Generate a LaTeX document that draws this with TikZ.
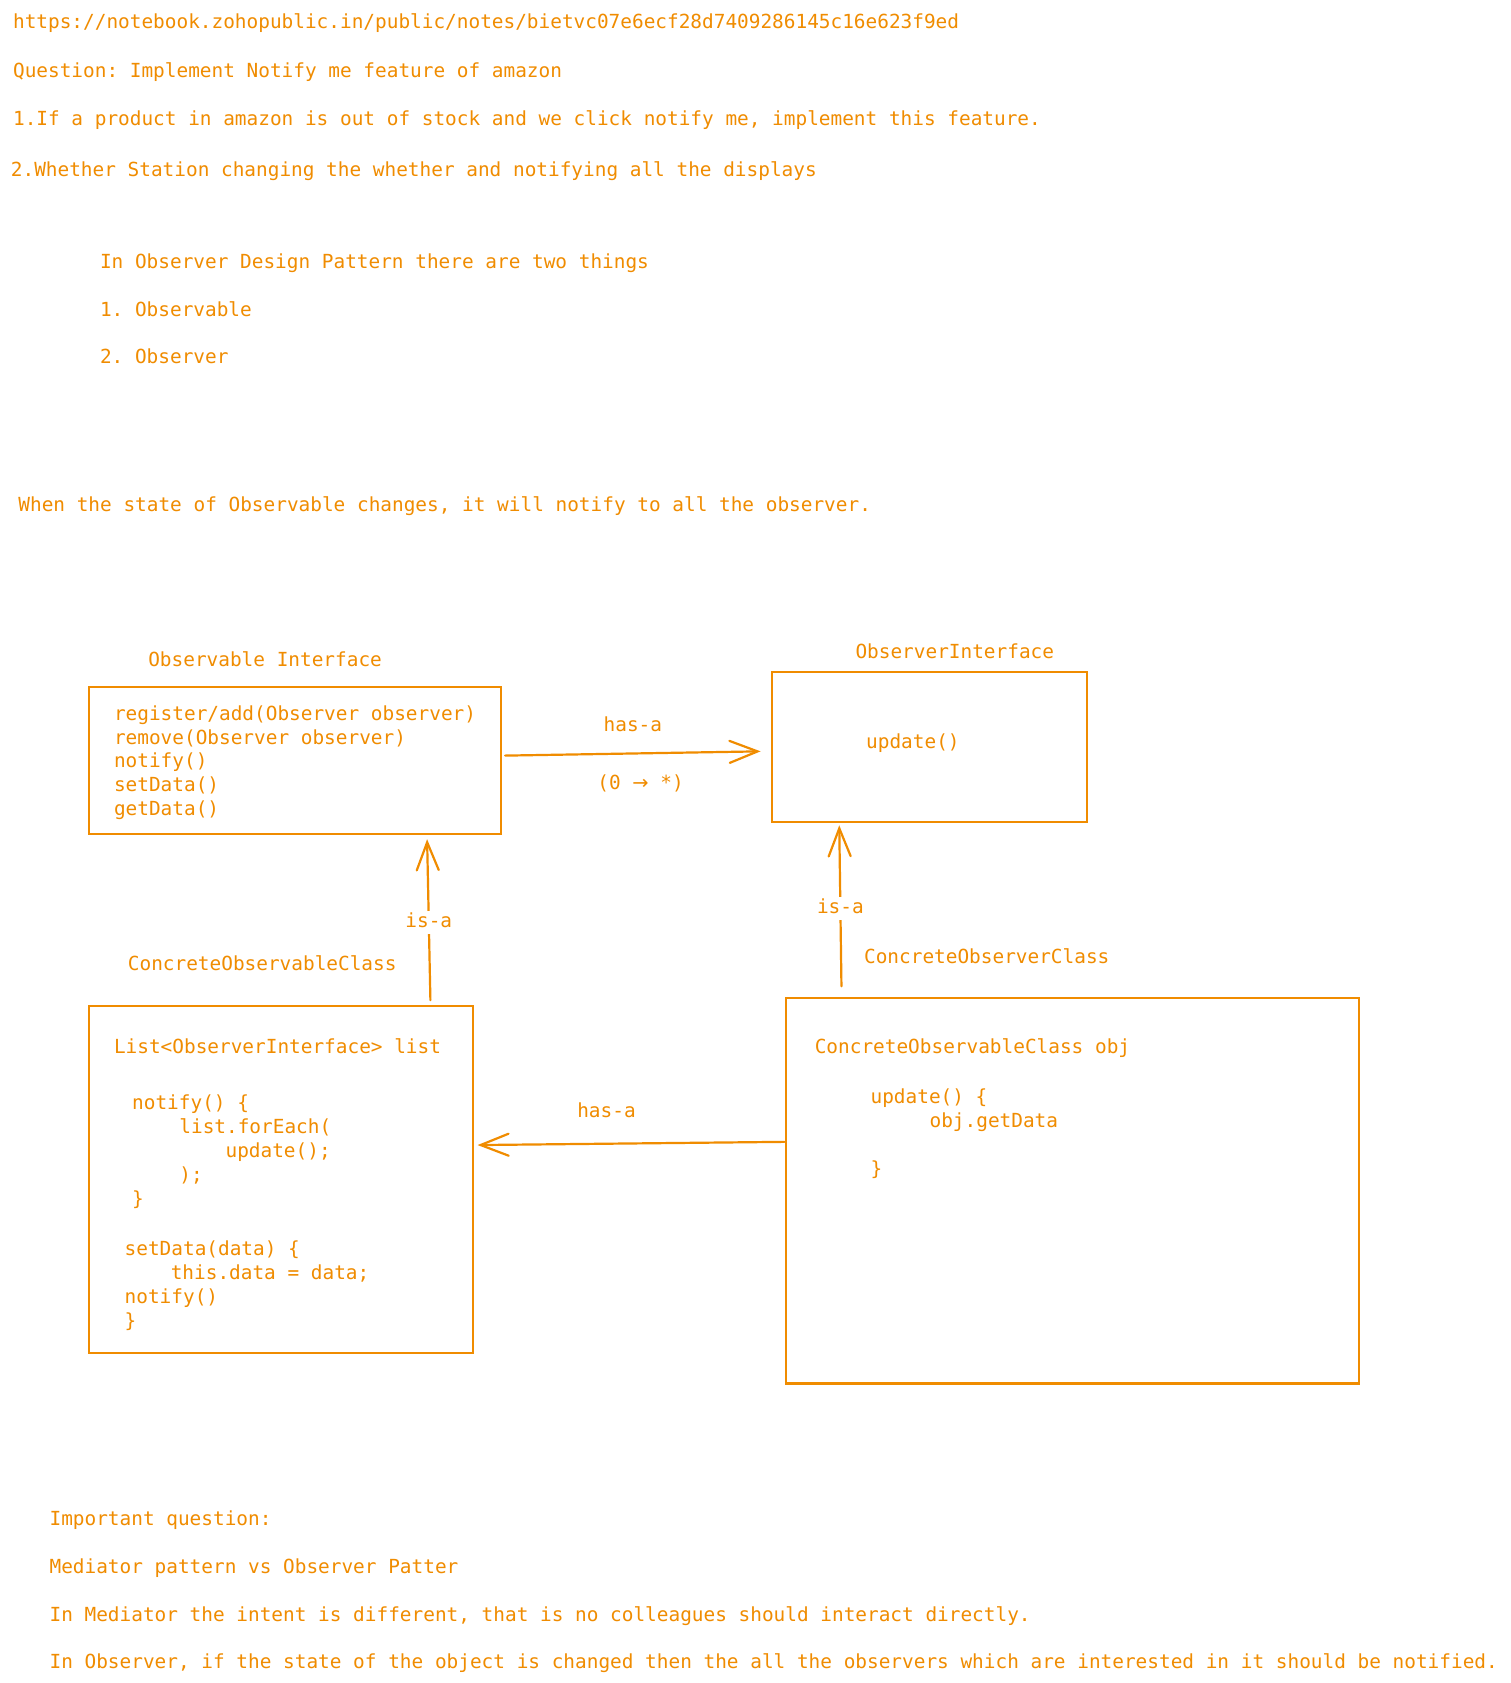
\documentclass[tikz,border=0pt]{standalone}
\usepackage{fontspec}
\usetikzlibrary{arrows.meta}
\newfontfamily\codefont{DejaVu Sans Mono}
\newfontfamily\arrowfont{DejaVu Sans}
\definecolor{orng}{RGB}{240,140,0}
\frenchspacing
\begin{document}
\begin{tikzpicture}[x=1pt,y=-1pt,
  txt/.style={anchor=west, inner sep=0pt, text height=14pt, text depth=4pt, yshift=-2.5pt,
    text=orng, font=\codefont\fontsize{19.4}{23.9}\selectfont},
  lbl/.style={txt, anchor=center},
  cut/.style={lbl, fill=white, inner xsep=1pt, inner ysep=2.5pt},
  box/.style={draw=orng, line width=2.2pt, inner sep=0pt, anchor=north west},
  arr/.style={draw=orng, line width=2.2pt, line cap=round,
    -{Straight Barb[length=28pt,width=22pt,line cap=round]}}]
\useasboundingbox[fill=white] (0,0) rectangle (1511,1683);

% header notes
\node[txt] (url) at (12.9,21.5) {https://notebook.zohopublic.in/public/notes/bietvc07e6ecf28d7409286145c16e623f9ed};
\node[txt] (q) at (12.9,69.8) {Question: Implement Notify me feature of amazon};
\node[txt] (q1) at (12.9,118) {1.If a product in amazon is out of stock and we click notify me, implement this feature.};
\node[txt] (q2) at (10.7,168.5) {2.Whether Station changing the whether and notifying all the displays};
\node[txt] (intro) at (99.8,260.8) {In Observer Design Pattern there are two things};
\node[txt] (i1) at (99.8,309) {1. Observable};
\node[txt] (i2) at (99.8,356.3) {2. Observer};
\node[txt] (when) at (18.2,504.4) {When the state of Observable changes, it will notify to all the observer.};

% class titles
\node[txt] (t1) at (148.1,659) {Observable Interface};
\node[txt] (t2) at (855.3,651.4) {ObserverInterface};
\node[txt] (t3) at (127.7,962.7) {ConcreteObservableClass};
\node[txt] (t4) at (863.9,956.2) {ConcreteObserverClass};

% class boxes
\node[box, minimum width=412pt, minimum height=147pt] (obsif) at (88,686) {};
\node[box, minimum width=315.5pt, minimum height=150.3pt] (obsrif) at (770.6,670.7) {};
\node[box, minimum width=384.2pt, minimum height=347.7pt] (cobs) at (88,1004.5) {};
\node[box, minimum width=573.1pt, minimum height=385.3pt] (cobsr) at (784.5,997) {};

% Observable Interface members
\node[txt] (m1) at (113.8,712.6) {register/add(Observer observer)};
\node[txt] (m2) at (113.8,736.5) {remove(Observer observer)};
\node[txt] (m3) at (113.8,760.4) {notify()};
\node[txt] (m4) at (113.8,784.3) {setData()};
\node[txt] (m5) at (113.8,808.2) {getData()};

% ObserverInterface members
\node[txt] (u1) at (866,740.5) {update()};

% ConcreteObservableClass body
\node[txt] (c1) at (113.8,1046.4) {List<ObserverInterface> list};
\node[txt] (c2) at (132,1102.2) {notify() \{};
\node[txt] (c3) at (179.2,1125.8) {list.forEach(};
\node[txt] (c4) at (225.4,1149.6) {update();};
\node[txt] (c5) at (179.2,1173.6) {);};
\node[txt] (c6) at (132,1197.5) {\}};
\node[txt] (c7) at (124.5,1248.1) {setData(data) \{};
\node[txt] (c8) at (170.6,1272.2) {this.data = data;};
\node[txt] (c9) at (124.5,1296.2) {notify()};
\node[txt] (c10) at (124.5,1320.1) {\}};

% ConcreteObserverClass body
\node[txt] (o1) at (814.6,1046.4) {ConcreteObservableClass obj};
\node[txt] (o2) at (870.4,1095.7) {update() \{};
\node[txt] (o3) at (929.4,1120.4) {obj.getData};
\node[txt] (o4) at (870.4,1167.6) {\}};

% relations
\draw[arr] ([xshift=3pt,yshift=5pt]obsif.east) -- ([xshift=-10pt,yshift=-4.4pt]obsrif.west)
  node[lbl, midway, yshift=29pt] (hasa1) {has-a}
  node[lbl, pos=0.53, yshift=-29pt] (mult) {(0 {\arrowfont →} *)};
\draw[arr] ([yshift=48.9pt]cobsr.west) -- ([xshift=3.2pt,yshift=34.4pt]cobs.east)
  node[lbl, pos=0.58, yshift=34pt] (hasa2) {has-a};
\draw[arr] ([xshift=149.2pt,yshift=4.3pt]cobs.north) -- ([xshift=132pt,yshift=-4pt]obsif.south)
  node[cut, midway] (isa1) {is-a};
\draw[arr] ([xshift=-230.7pt,yshift=10.7pt]cobsr.north) -- ([xshift=-90.2pt,yshift=-2.1pt]obsrif.south)
  node[cut, midway] (isa2) {is-a};

% closing notes
\node[txt] (imp) at (49.4,1517.5) {Important question:};
\node[txt] (mvo) at (49.4,1565.8) {Mediator pattern vs Observer Patter};
\node[txt] (med) at (49.4,1614) {In Mediator the intent is different, that is no colleagues should interact directly.};
\node[txt] (obs) at (49.4,1661.3) {In Observer, if the state of the object is changed then the all the observers which are interested in it should be notified.};
\end{tikzpicture}
\end{document}
